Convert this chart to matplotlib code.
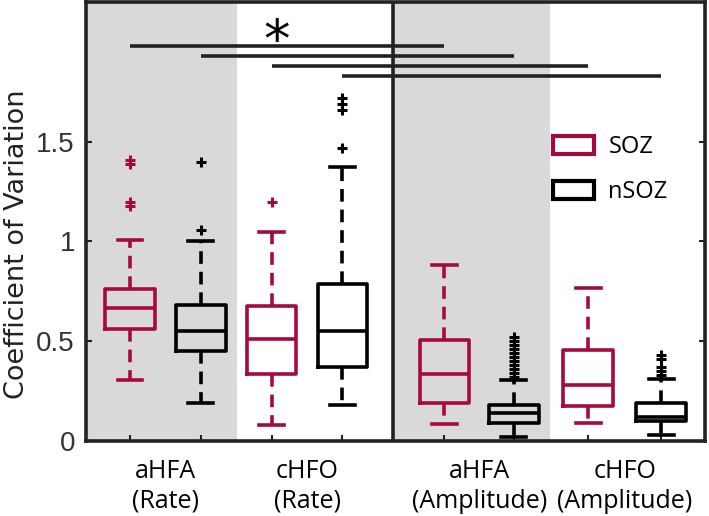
import matplotlib.pyplot as plt
from matplotlib.patches import Patch
from matplotlib.transforms import blended_transform_factory

# groups / labels
group_names = ['aHFA', 'cHFO', 'aHFA', 'cHFO']
group_kinds = ['(Rate)', '(Rate)', '(Amplitude)', '(Amplitude)']
series = ['SOZ', 'nSOZ', 'SOZ', 'nSOZ', 'SOZ', 'nSOZ', 'SOZ', 'nSOZ']

# box statistics (SOZ / nSOZ alternating)
q1 = [0.56, 0.452, 0.337, 0.373, 0.193, 0.089, 0.176, 0.100]
med = [0.667, 0.55, 0.511, 0.549, 0.337, 0.139, 0.281, 0.119]
q3 = [0.76, 0.683, 0.675, 0.789, 0.504, 0.181, 0.457, 0.193]
whislo = [0.306, 0.193, 0.08, 0.181, 0.085, 0.022, 0.089, 0.03]
whishi = [1.01, 1.00, 1.047, 1.375, 0.884, 0.307, 0.769, 0.31]
fliers = [
    [1.18, 1.20, 1.39, 1.41],
    [1.06, 1.40],
    [1.20],
    [1.47, 1.66, 1.69, 1.72],
    [],
    [0.32, 0.34, 0.36, 0.38, 0.40, 0.42, 0.44, 0.46, 0.48, 0.50, 0.52],
    [],
    [0.33, 0.35, 0.37, 0.41, 0.43],
]

# significance bars: (from box, to box, level)
sig_from = [0, 1, 2, 3]
sig_to = [4, 5, 6, 7]
sig_level = [1.982, 1.93, 1.878, 1.827]

positions = [1, 2, 3, 4, 5.44, 6.42, 7.47, 8.5]
red = '#A50A3C'
dark = '#222222'
colors = {'SOZ': red, 'nSOZ': 'black'}

fig = plt.figure(figsize=(7.09, 5.16), dpi=100)
ax = fig.add_axes([0.1213, 0.1453, 0.8731, 0.8507])

# shaded backgrounds and the divider between Rate and Amplitude
ax.axvspan(0.378, 2.51, color='#D9D9D9', lw=0, zorder=0)
ax.axvspan(4.715, 6.93, color='#D9D9D9', lw=0, zorder=0)
ax.axvline(4.715, color=dark, lw=2.6, zorder=3)

for i in range(len(positions)):
    c = colors[series[i]]
    stats = [dict(med=med[i], q1=q1[i], q3=q3[i], whislo=whislo[i],
                  whishi=whishi[i], fliers=fliers[i])]
    ax.bxp(stats, positions=[positions[i]], widths=0.7, showfliers=True,
           manage_ticks=False,
           boxprops=dict(color=c, lw=2.6),
           medianprops=dict(color=c, lw=2.6),
           whiskerprops=dict(color=c, lw=2.6, linestyle=(0, (3.5, 2.2))),
           capprops=dict(color=c, lw=2.6),
           flierprops=dict(marker='+', markeredgecolor=c, markersize=7, mew=2.2))

for a, b, lvl in zip(sig_from, sig_to, sig_level):
    ax.plot([positions[a], positions[b]], [lvl, lvl], color=dark, lw=2.6,
            solid_capstyle='butt', zorder=3)
ax.text(3.07, 2.0, '*', ha='center', va='center', fontsize=38, color='black')

ax.set_xlim(0.378, 9.12)
ax.set_ylim(0, 2.2)
ax.set_yticks([0, 0.5, 1, 1.5])
ax.set_yticklabels(['0', '0.5', '1', '1.5'], fontsize=20, family='Liberation Sans',
                   color='#333333')
ax.set_xticks(positions)
ax.set_xticklabels([])
ax.tick_params(axis='both', direction='in', length=4, width=1.5, color=dark, right=True)
ax.tick_params(axis='y', pad=8)
for s in ax.spines.values():
    s.set_linewidth(2.6)
    s.set_color(dark)

# two-line group labels under each pair of boxes
trans = blended_transform_factory(ax.transData, fig.transFigure)
centers = [(positions[2 * k] + positions[2 * k + 1]) / 2 for k in range(4)]
for cx, name, kind in zip(centers, group_names, group_kinds):
    ax.text(cx, 1 - 478 / 516, name, ha='center', va='baseline', fontsize=18,
            family='Open Sans', transform=trans)
    ax.text(cx, 1 - 508 / 516, kind, ha='center', va='baseline', fontsize=18,
            family='Open Sans', transform=trans)

ax.set_ylabel('Coefficient of Variation', fontsize=19.5, family='DejaVu Sans',
              color='#222222')
ax.yaxis.set_label_coords(-0.09, 0.449)

handles = [Patch(facecolor='white', edgecolor=red, lw=3, label='SOZ'),
           Patch(facecolor='white', edgecolor='black', lw=3, label='nSOZ')]
ax.legend(handles=handles, loc='upper left', bbox_to_anchor=(0.72, 0.745),
          frameon=False, prop=dict(family='Open Sans', size=17),
          handlelength=1.75, handleheight=0.8, handletextpad=0.6, labelspacing=0.9)

fig.savefig('out.png', dpi=100)
